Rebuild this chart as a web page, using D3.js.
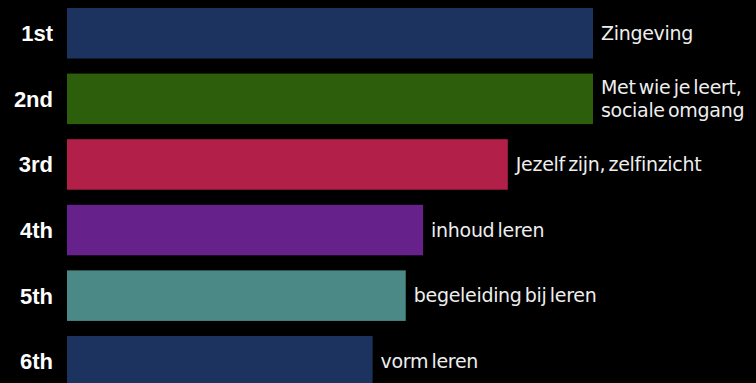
<!DOCTYPE html>
<html>
<head>
<script src="https://d3js.org/d3.v7.min.js"></script>
<style>
  html, body { margin: 0; padding: 0; background: #000; overflow: hidden; }
  svg { display: block; }
</style>
</head>
<body>
<svg id="chart" width="756" height="383"></svg>
<script>
  // chart data
  const ranks = ["1st", "2nd", "3rd", "4th", "5th", "6th"];
  const topics = [
    ["Zingeving"],
    ["Met wie je leert,", "sociale omgang"],
    ["Jezelf zijn, zelfinzicht"],
    ["inhoud leren"],
    ["begeleiding bij leren"],
    ["vorm leren"]
  ];
  const scores = [100, 100, 83.8, 67.7, 64.4, 58.1];
  const colors = ["#1d335f", "#2d5e0b", "#b21f48", "#67218b", "#4a8985", "#1d335f"];

  const svg = d3.select("svg#chart");

  const x = d3.scaleLinear().domain([0, 100]).range([67, 593]);
  const y = d3.scaleBand().domain(ranks).range([8, 386.5]).paddingInner(0.23).paddingOuter(0);

  const data = ranks.map((r, i) => ({rank: r, lines: topics[i], v: scores[i], c: colors[i]}));

  // bars
  svg.selectAll("rect.bar").data(data)
     .join("rect")
     .attr("class", "bar")
     .attr("x", x(0))
     .attr("y", d => y(d.rank))
     .attr("width", d => x(d.v) - x(0))
     .attr("height", y.bandwidth())
     .attr("fill", d => d.c);

  // rank labels on the left
  svg.selectAll("text.rank").data(data)
     .join("text")
     .attr("class", "rank")
     .attr("x", 53)
     .attr("y", d => y(d.rank) + y.bandwidth() / 2)
     .attr("dy", "0.36em")
     .attr("text-anchor", "end")
     .attr("fill", "#fff")
     .style("font-family", "Arial, 'Liberation Sans', sans-serif")
     .style("font-weight", "bold")
     .style("font-size", "22px")
     .text(d => d.rank);

  // topic labels after the bar end
  const lineH = 23;
  const lbl = svg.selectAll("text.topic").data(data)
     .join("text")
     .attr("class", "topic")
     .attr("fill", "#eee")
     .style("font-family", "'DejaVu Sans', sans-serif")
     .style("font-size", "19px")
     .style("letter-spacing", "-0.3px")
     .style("word-spacing", "-2.5px");

  lbl.each(function(d) {
      const t = d3.select(this);
      const cy = y(d.rank) + y.bandwidth() / 2 - (d.lines.length - 1) * lineH / 2;
      t.selectAll("tspan").data(d.lines)
       .join("tspan")
       .attr("x", x(d.v) + 8)
       .attr("y", (s, i) => cy + i * lineH)
       .attr("dy", "0.35em")
       .text(s => s);
  });
</script>
</body>
</html>
